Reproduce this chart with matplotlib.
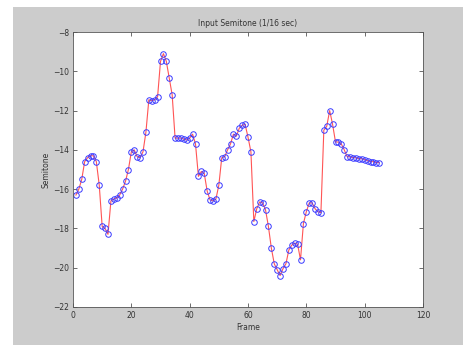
import matplotlib
matplotlib.use('Agg')
import matplotlib.pyplot as plt
from matplotlib.patches import Rectangle

# Semitone value per frame (frames 1..105)
frames = list(range(1, 106))
semitone = [
    -16.3, -16.0, -15.5, -14.6, -14.4, -14.3, -14.3, -14.6, -15.8, -17.9,
    -18.0, -18.3, -16.6, -16.5, -16.45, -16.3, -16.0, -15.6, -15.0, -14.1,
    -14.0, -14.35, -14.4, -14.1, -13.1, -11.45, -11.5, -11.45, -11.3, -9.5,
    -9.1, -9.5, -10.35, -11.2, -13.4, -13.4, -13.4, -13.45, -13.5, -13.4,
    -13.2, -13.7, -15.35, -15.1, -15.2, -16.1, -16.55, -16.6, -16.5, -15.8,
    -14.4, -14.35, -14.0, -13.7, -13.2, -13.3, -12.9, -12.75, -12.7, -13.35,
    -14.1, -17.65, -17.0, -16.65, -16.7, -17.05, -17.9, -19.0, -19.8, -20.1,
    -20.4, -20.05, -19.8, -19.1, -18.85, -18.75, -18.8, -19.6, -17.75, -17.15,
    -16.7, -16.7, -17.0, -17.15, -17.2, -13.0, -12.8, -12.0, -12.7, -13.6,
    -13.6, -13.7, -14.0, -14.35, -14.35, -14.4, -14.4, -14.45, -14.45, -14.5,
    -14.55, -14.6, -14.6, -14.65, -14.65,
]

x_ticks = [0, 20, 40, 60, 80, 100, 120]
y_ticks = [-22, -20, -18, -16, -14, -12, -10, -8]

fig = plt.figure(figsize=(4.63, 3.45), dpi=100, facecolor='white')

# gray figure panel (MATLAB style) inside a thin white margin
fig.patches.append(Rectangle((13 / 463, 0), 1 - 13 / 463, 1 - 7 / 345,
                             transform=fig.transFigure, facecolor='#cccccc',
                             edgecolor='none', zorder=-10))

ax = fig.add_axes([73 / 463, 1 - 307 / 345, 350 / 463, 275 / 345])
ax.set_facecolor('white')

# red line, blue open circles
ax.plot(frames, semitone, '-', color='#ff5555', linewidth=0.8)
ax.plot(frames, semitone, 'o', markerfacecolor='none', markeredgecolor='#3a3aff',
        markersize=4, markeredgewidth=0.7)

ax.set_xlim(0, 120)
ax.set_ylim(-22, -8)
ax.set_xticks(x_ticks)
ax.set_yticks(y_ticks)
ax.tick_params(direction='in', length=3, width=0.5, labelsize=5.5,
               top=True, right=True, colors='#333333', pad=3)
for s in ax.spines.values():
    s.set_linewidth(0.6)
    s.set_color('#555555')

ax.set_title('Input Semitone (1/16 sec)', fontsize=5.5, color='#333333', pad=4)
ax.set_xlabel('Frame', fontsize=5.5, color='#333333', labelpad=2)
ax.set_ylabel('Semitone', fontsize=5.5, color='#333333', labelpad=2)

plt.savefig('out.png', dpi=100, facecolor=fig.get_facecolor())
